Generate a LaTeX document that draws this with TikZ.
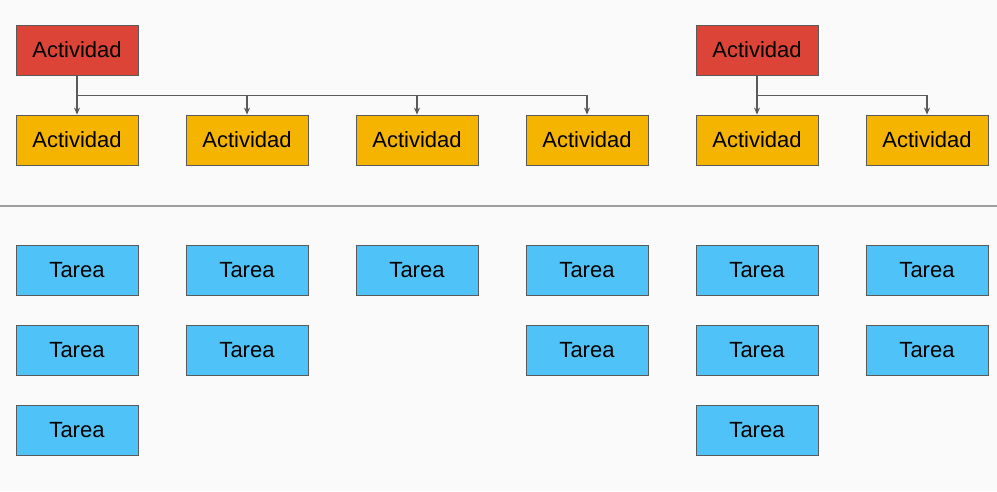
\documentclass[tikz,border=0pt]{standalone}
\usepackage{fontspec}
\setmainfont{Liberation Sans}
\usetikzlibrary{arrows.meta}
\definecolor{bg}{HTML}{FAFAFA}
\definecolor{actred}{HTML}{DB4437}
\definecolor{actyellow}{HTML}{F4B400}
\definecolor{taskblue}{HTML}{4FC3F7}
\definecolor{edge}{HTML}{5A5A5A}
\definecolor{sepgray}{HTML}{9E9E9E}
\begin{document}
\begin{tikzpicture}[x=1pt,y=-1pt,
  box/.style={draw=edge, line width=0.9pt, minimum width=122pt, minimum height=50pt,
    inner sep=0pt, font=\fontsize{22}{26}\selectfont, text=black},
  parent/.style={box, fill=actred},
  child/.style={box, fill=actyellow},
  task/.style={box, fill=taskblue},
  conn/.style={draw=edge, line width=1.2pt, -{Stealth[length=7pt,width=6pt]}},
  sepline/.style={draw=sepgray, line width=1.6pt}]
\fill[bg] (0,0) rectangle (997,491);
\useasboundingbox (0,0) rectangle (997,491);
% parents
\node[parent] (p1) at (77,50) {Actividad};
\node[parent] (p2) at (757,50) {Actividad};
% children
\node[child] (a1) at (77,140) {Actividad};
\node[child] (a2) at (247,140) {Actividad};
\node[child] (a3) at (417,140) {Actividad};
\node[child] (a4) at (587,140) {Actividad};
\node[child] (a5) at (757,140) {Actividad};
\node[child] (a6) at (927,140) {Actividad};
% connectors
\foreach \t in {a1,a2,a3,a4} \draw[conn] (p1.south) -- ++(0,20) -| (\t.north);
\foreach \t in {a5,a6} \draw[conn] (p2.south) -- ++(0,20) -| (\t.north);
% separator
\coordinate (sl) at (0,206);
\coordinate (sr) at (997,206);
\draw[sepline] (sl) -- (sr);
% tasks
\node[task] (t11) at (77,270) {Tarea};
\node[task] (t12) at (77,350) {Tarea};
\node[task] (t13) at (77,430) {Tarea};
\node[task] (t21) at (247,270) {Tarea};
\node[task] (t22) at (247,350) {Tarea};
\node[task] (t31) at (417,270) {Tarea};
\node[task] (t41) at (587,270) {Tarea};
\node[task] (t42) at (587,350) {Tarea};
\node[task] (t51) at (757,270) {Tarea};
\node[task] (t52) at (757,350) {Tarea};
\node[task] (t53) at (757,430) {Tarea};
\node[task] (t61) at (927,270) {Tarea};
\node[task] (t62) at (927,350) {Tarea};
\end{tikzpicture}
\end{document}
